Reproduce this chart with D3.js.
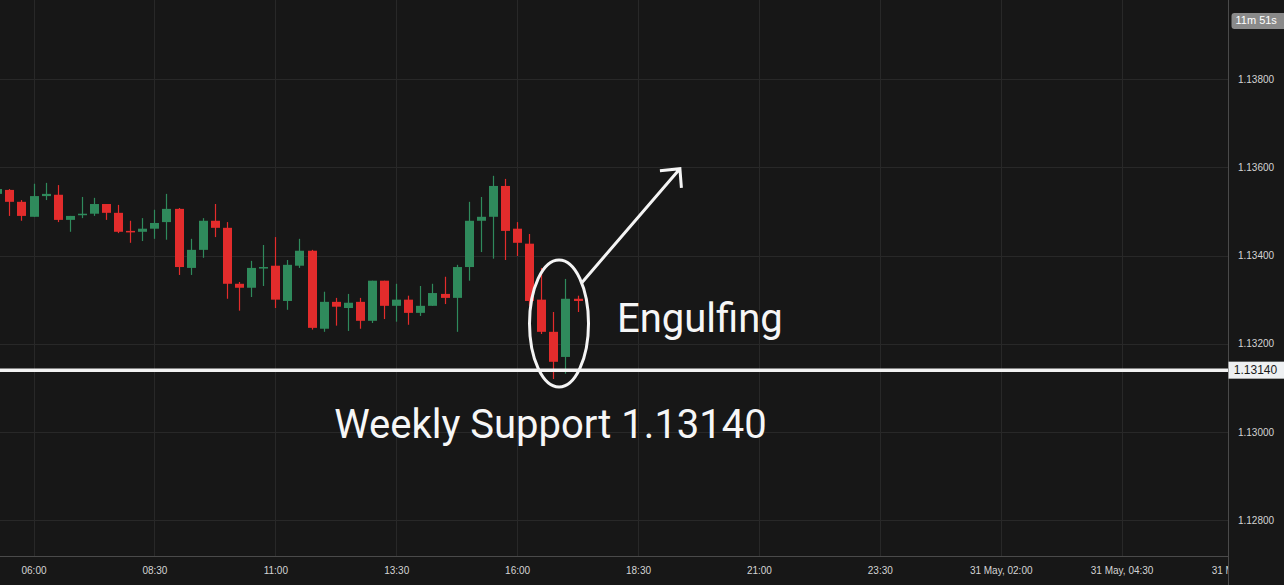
<!DOCTYPE html>
<html><head><meta charset="utf-8">
<script src="https://cdn.jsdelivr.net/npm/d3@7"></script>
<style>
html,body{margin:0;padding:0;background:#171717;overflow:hidden}
svg{display:block}
</style></head>
<body>
<svg id="c" width="1284" height="585"></svg>
<script>
// ---- data (EUR/USD, 15 min candles, 30 May) ----
const times = ["05:15","05:30","05:45","06:00","06:15","06:30","06:45","07:00","07:15","07:30","07:45","08:00","08:15","08:30","08:45","09:00","09:15","09:30","09:45","10:00","10:15","10:30","10:45","11:00","11:15","11:30","11:45","12:00","12:15","12:30","12:45","13:00","13:15","13:30","13:45","14:00","14:15","14:30","14:45","15:00","15:15","15:30","15:45","16:00","16:15","16:30","16:45","17:00","17:15"];
const opens  = [1.13540,1.13549,1.13522,1.13488,1.13535,1.13538,1.13481,1.13494,1.13495,1.13517,1.13497,1.13456,1.13454,1.13461,1.13476,1.13506,1.13372,1.13413,1.13479,1.13463,1.13336,1.13327,1.13373,1.13377,1.13297,1.13377,1.13411,1.13234,1.13295,1.13281,1.13295,1.13252,1.13343,1.13286,1.13300,1.13270,1.13286,1.13313,1.13304,1.13374,1.13479,1.13488,1.13558,1.13461,1.13427,1.13300,1.13227,1.13170,1.13302];
const highs  = [1.13553,1.13551,1.13526,1.13563,1.13565,1.13560,1.13490,1.13533,1.13531,1.13517,1.13515,1.13479,1.13485,1.13504,1.13540,1.13508,1.13438,1.13485,1.13517,1.13476,1.13340,1.13388,1.13424,1.13442,1.13390,1.13438,1.13413,1.13318,1.13304,1.13313,1.13304,1.13343,1.13343,1.13336,1.13309,1.13331,1.13336,1.13352,1.13379,1.13522,1.13533,1.13581,1.13574,1.13476,1.13449,1.13372,1.13272,1.13347,1.13309];
const lows   = [1.13538,1.13490,1.13479,1.13488,1.13526,1.13476,1.13454,1.13485,1.13490,1.13481,1.13451,1.13429,1.13433,1.13438,1.13436,1.13356,1.13356,1.13395,1.13442,1.13302,1.13275,1.13306,1.13331,1.13281,1.13277,1.13372,1.13232,1.13227,1.13241,1.13229,1.13234,1.13247,1.13256,1.13250,1.13243,1.13263,1.13286,1.13290,1.13227,1.13343,1.13408,1.13393,1.13390,1.13399,1.13286,1.13222,1.13120,1.13132,1.13272];
const closes = [1.13551,1.13522,1.13490,1.13535,1.13540,1.13481,1.13490,1.13495,1.13517,1.13497,1.13454,1.13455,1.13461,1.13474,1.13506,1.13374,1.13413,1.13479,1.13463,1.13336,1.13327,1.13372,1.13374,1.13300,1.13379,1.13411,1.13236,1.13295,1.13284,1.13293,1.13252,1.13343,1.13286,1.13300,1.13270,1.13286,1.13315,1.13304,1.13374,1.13479,1.13488,1.13558,1.13456,1.13429,1.13297,1.13227,1.13159,1.13302,1.13297];

const priceTicks = [1.128,1.130,1.132,1.134,1.136,1.138];
const timeTicks = ["2021-05-30T06:00","2021-05-30T08:30","2021-05-30T11:00","2021-05-30T13:30","2021-05-30T16:00","2021-05-30T18:30","2021-05-30T21:00","2021-05-30T23:30","2021-05-31T02:00","2021-05-31T04:30","2021-05-31T07:00"];
const timeTickLabels = ["06:00","08:30","11:00","13:30","16:00","18:30","21:00","23:30","31 May, 02:00","31 May, 04:30","31 May, 07:00"];

const supportPrice = 1.13140;
const supportLabel = "Weekly Support 1.13140";
const patternLabel = "Engulfing";
const timerLabel = "11m 51s";

// ---- layout ----
const W = 1284, H = 585, plotR = 1228, plotB = 556;
const parse = s => new Date(s);
const day = t => parse("2021-05-30T" + t);

const x = d3.scaleTime()
  .domain([parse("2021-05-30T06:00"), parse("2021-05-31T04:30")])
  .range([33.5, 33.5 + 9 * 120.9]);
const y = d3.scaleLinear().domain([1.128, 1.138]).range([520, 79.3]);

const svg = d3.select("#c");
svg.append("rect").attr("width", W).attr("height", H).attr("fill", "#171717");

svg.append("defs").append("clipPath").attr("id", "plot")
  .append("rect").attr("x", 0).attr("y", 0).attr("width", plotR).attr("height", H);

const plot = svg.append("g").attr("clip-path", "url(#plot)");

// grid
plot.append("g").selectAll("line").data(priceTicks).join("line")
  .attr("x1", 0).attr("x2", plotR)
  .attr("y1", d => Math.round(y(d)) + 0.5).attr("y2", d => Math.round(y(d)) + 0.5)
  .attr("stroke", "#282828").attr("stroke-width", 1);
plot.append("g").selectAll("line").data(timeTicks).join("line")
  .attr("x1", d => Math.round(x(parse(d))) + 0.5).attr("x2", d => Math.round(x(parse(d))) + 0.5)
  .attr("y1", 0).attr("y2", plotB)
  .attr("stroke", "#282828").attr("stroke-width", 1);

// candles
const candles = times.map((t, i) => ({t: day(t), o: opens[i], h: highs[i], l: lows[i], c: closes[i]}));
const green = "#2f8a5c", red = "#e32c2c";
const bw = 9;
const cg = plot.append("g");
cg.selectAll("line").data(candles).join("line")
  .attr("x1", d => Math.round(x(d.t)) + 0.5).attr("x2", d => Math.round(x(d.t)) + 0.5)
  .attr("y1", d => y(d.h)).attr("y2", d => y(d.l))
  .attr("stroke", d => d.c >= d.o ? green : red).attr("stroke-width", 1.2);
cg.selectAll("rect").data(candles).join("rect")
  .attr("x", d => Math.round(x(d.t)) + 0.5 - bw / 2)
  .attr("width", bw)
  .attr("y", d => y(Math.max(d.o, d.c)))
  .attr("height", d => Math.max(1.5, Math.abs(y(d.o) - y(d.c))))
  .attr("fill", d => d.c >= d.o ? green : red);

// support line
plot.append("line").attr("x1", 0).attr("x2", plotR)
  .attr("y1", y(supportPrice)).attr("y2", y(supportPrice))
  .attr("stroke", "#f2f2f2").attr("stroke-width", 3.5);

// annotations (anchored in data space)
const ellC = {t: day("16:52"), p: 1.13246};
const ann = svg.append("g");
ann.append("ellipse")
  .attr("cx", x(ellC.t)).attr("cy", y(ellC.p))
  .attr("rx", 29.5).attr("ry", 63.5)
  .attr("fill", "none").attr("stroke", "#f4f4f4").attr("stroke-width", 3);

const arrowFrom = {t: day("17:20"), p: 1.13338};
const arrowTo = {t: day("19:22"), p: 1.13597};
const ax1 = x(arrowFrom.t), ay1 = y(arrowFrom.p), ax2 = x(arrowTo.t), ay2 = y(arrowTo.p);
ann.append("path")
  .attr("d", `M${ax1},${ay1}L${ax2},${ay2}M${ax2 - 20},${ay2 + 2}L${ax2},${ay2}L${ax2 + 1.5},${ay2 + 19}`)
  .attr("fill", "none").attr("stroke", "#f4f4f4").attr("stroke-width", 3)
  .attr("stroke-linecap", "butt").attr("stroke-linejoin", "miter");

ann.append("text").attr("x", x(day("18:04"))).attr("y", y(1.13226))
  .attr("font-family", "Roboto").attr("font-size", 40).attr("fill", "#f6f6f6")
  .text(patternLabel);
ann.append("text").attr("x", x(day("12:13"))).attr("y", y(1.12986))
  .attr("font-family", "Roboto").attr("font-size", 40).attr("fill", "#f6f6f6")
  .text(supportLabel);

// axes frame
svg.append("line").attr("x1", plotR + 0.5).attr("x2", plotR + 0.5).attr("y1", 0).attr("y2", H)
  .attr("stroke", "#4a4a4a");
svg.append("line").attr("x1", 0).attr("x2", plotR).attr("y1", plotB + 0.5).attr("y2", plotB + 0.5)
  .attr("stroke", "#4a4a4a");

// price axis
const yAxis = d3.axisRight(y).tickValues(priceTicks).tickFormat(d3.format(".5f")).tickSize(0).tickPadding(0);
const ya = svg.append("g").attr("transform", `translate(${plotR},0)`).call(yAxis);
ya.select(".domain").remove();
ya.selectAll("text").attr("x", 28).attr("text-anchor", "middle")
  .attr("font-family", "Liberation Sans, Arial, sans-serif").attr("font-size", 10).attr("fill", "#d4d4d4");

// time axis
const xAxis = d3.axisBottom(x).tickValues(timeTicks.map(parse))
  .tickFormat((d, i) => timeTickLabels[i]).tickSize(0).tickPadding(0);
const xa = svg.append("g").attr("clip-path", "url(#plot)").append("g")
  .attr("transform", `translate(0,${plotB})`).call(xAxis);
xa.select(".domain").remove();
xa.selectAll("text").attr("y", 15).attr("dy", "0")
  .attr("dominant-baseline", "middle")
  .attr("font-family", "Liberation Sans, Arial, sans-serif").attr("font-size", 10).attr("fill", "#d4d4d4");

// support price badge
const sb = svg.append("g").attr("transform", `translate(${plotR},${y(supportPrice)})`);
sb.append("rect").attr("x", 0.5).attr("y", -8.5).attr("width", W - plotR).attr("height", 17).attr("fill", "#eef0f2");
sb.append("text").attr("x", 27.5).attr("y", 0.5).attr("text-anchor", "middle").attr("dominant-baseline", "middle")
  .attr("font-family", "Liberation Sans, Arial, sans-serif").attr("font-size", 12).attr("fill", "#1a1a1a")
  .text(supportPrice.toFixed(5));

// countdown badge
const tb = svg.append("g").attr("transform", `translate(${plotR + 3.5},13)`);
tb.append("rect").attr("x", 0).attr("y", 0).attr("width", 56).attr("height", 16).attr("rx", 3)
  .attr("fill", "#8a8a8a");
tb.append("text").attr("x", 4).attr("y", 8.5).attr("dominant-baseline", "middle")
  .attr("font-family", "Liberation Sans, Arial, sans-serif").attr("font-size", 11).attr("fill", "#ffffff")
  .text(timerLabel);
</script>
</body></html>
